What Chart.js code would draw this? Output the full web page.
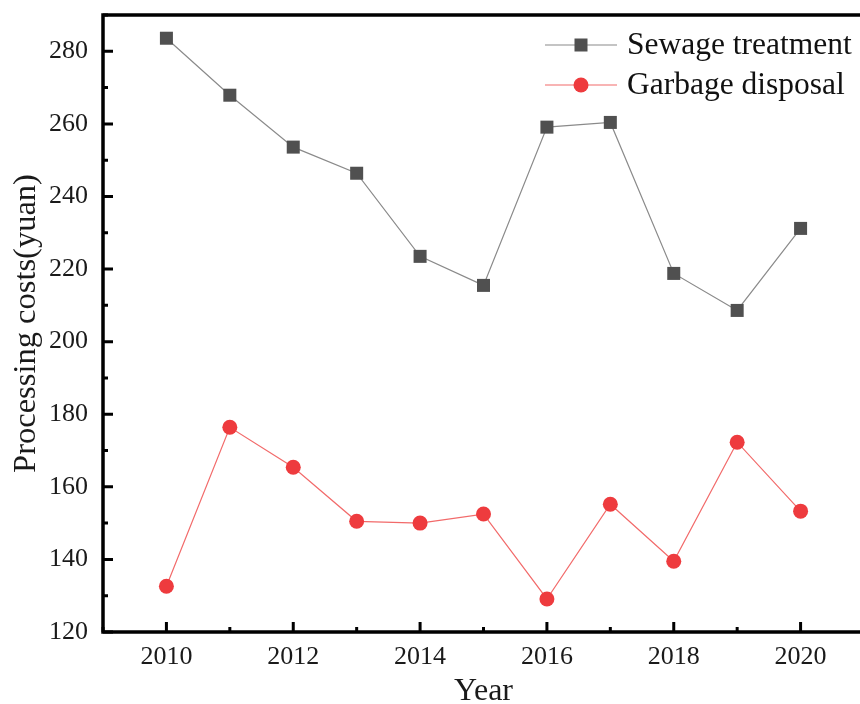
<!DOCTYPE html>
<html>
<head>
<meta charset="utf-8">
<script src="https://cdn.jsdelivr.net/npm/chart.js@4.4.1/dist/chart.umd.min.js"></script>
<style>
  html, body { margin: 0; padding: 0; background: #fff; }
  #wrap { width: 860px; height: 704px; overflow: hidden; }
  canvas { display: block; }
</style>
</head>
<body>
<div id="wrap"><canvas id="c" width="880" height="704"></canvas></div>
<script>
// Processing costs by year
const years = [2010, 2011, 2012, 2013, 2014, 2015, 2016, 2017, 2018, 2019, 2020];
const sewageTreatment = [283.6, 267.9, 253.6, 246.4, 223.5, 215.5, 259.1, 260.4, 218.8, 208.6, 231.2];
const garbageDisposal = [132.6, 176.4, 165.4, 150.5, 150.0, 152.5, 129.1, 155.2, 139.5, 172.3, 153.3];

const seriesNames = ['Sewage treatment', 'Garbage disposal'];
const xTickLabels = [2010, 2012, 2014, 2016, 2018, 2020];
const yTickLabels = [120, 140, 160, 180, 200, 220, 240, 260, 280];
const xMinorTicks = [2009, 2011, 2013, 2015, 2017, 2019, 2021];
const yMinorTicks = [130, 150, 170, 190, 210, 230, 250, 270, 290];

const FONT = '"Liberation Serif", "Times New Roman", serif';
const SEWAGE_LINE = '#8a8a8a', SEWAGE_MARK = '#505050';
const GARBAGE_LINE = '#f26a6a', GARBAGE_MARK = '#ee3b3e';

const toPoints = vals => years.map((yr, i) => ({ x: yr, y: vals[i] }));

// Axis frame (top, left, bottom) with inward major/minor tick marks
const framePlugin = {
  id: 'frame',
  afterDatasetsDraw(chart) {
    const { ctx, width, chartArea: { left, top, bottom }, scales: { x, y } } = chart;
    ctx.save();
    ctx.strokeStyle = '#000';
    ctx.lineWidth = 3.5;
    ctx.lineCap = 'square';
    ctx.beginPath();
    ctx.moveTo(width, top); ctx.lineTo(left, top); ctx.lineTo(left, bottom); ctx.lineTo(width, bottom);
    ctx.stroke();
    ctx.lineCap = 'butt';
    ctx.lineWidth = 3;
    ctx.beginPath();
    yTickLabels.forEach(v => { const p = y.getPixelForValue(v); ctx.moveTo(left, p); ctx.lineTo(left + 10, p); });
    yMinorTicks.forEach(v => { const p = y.getPixelForValue(v); ctx.moveTo(left, p); ctx.lineTo(left + 5, p); });
    xTickLabels.forEach(v => { const p = x.getPixelForValue(v); ctx.moveTo(p, bottom); ctx.lineTo(p, bottom - 10); });
    xMinorTicks.forEach(v => { const p = x.getPixelForValue(v); ctx.moveTo(p, bottom); ctx.lineTo(p, bottom - 5); });
    ctx.stroke();
    ctx.restore();
  }
};

// Legend in the upper right: line sample, marker, label
const legendPlugin = {
  id: 'sampleLegend',
  afterDraw(chart) {
    const { ctx } = chart;
    const rows = [
      { name: seriesNames[0], line: SEWAGE_LINE, mark: SEWAGE_MARK, shape: 'rect', y: 45 },
      { name: seriesNames[1], line: GARBAGE_LINE, mark: GARBAGE_MARK, shape: 'circle', y: 85 }
    ];
    ctx.save();
    rows.forEach(r => {
      ctx.strokeStyle = r.line;
      ctx.lineWidth = 1.2;
      ctx.beginPath(); ctx.moveTo(545, r.y); ctx.lineTo(617, r.y); ctx.stroke();
      ctx.fillStyle = r.mark;
      if (r.shape === 'rect') {
        ctx.fillRect(581 - 6.5, r.y - 6.5, 13, 13);
      } else {
        ctx.beginPath(); ctx.arc(581, r.y, 7.5, 0, Math.PI * 2); ctx.fill();
      }
      ctx.fillStyle = '#111';
      ctx.font = '31.5px ' + FONT;
      ctx.textBaseline = 'middle';
      ctx.textAlign = 'left';
      ctx.fillText(r.name, 627, r.y + 1);
    });
    ctx.restore();
  }
};

new Chart(document.getElementById('c'), {
  type: 'line',
  data: {
    datasets: [
      {
        label: seriesNames[0],
        data: toPoints(sewageTreatment),
        borderColor: SEWAGE_LINE,
        borderWidth: 1.2,
        pointStyle: 'rect',
        pointRadius: 9.2,
        pointBackgroundColor: SEWAGE_MARK,
        pointBorderWidth: 0,
        tension: 0
      },
      {
        label: seriesNames[1],
        data: toPoints(garbageDisposal),
        borderColor: GARBAGE_LINE,
        borderWidth: 1.2,
        pointStyle: 'circle',
        pointRadius: 7.5,
        pointBackgroundColor: GARBAGE_MARK,
        pointBorderWidth: 0,
        tension: 0
      }
    ]
  },
  options: {
    responsive: false,
    animation: false,
    devicePixelRatio: 1,
    layout: { padding: { top: 15, right: 16, left: 0, bottom: 0 } },
    plugins: { legend: { display: false }, tooltip: { enabled: false } },
    scales: {
      x: {
        type: 'linear',
        min: 2009,
        max: 2021,
        grid: { display: false, drawTicks: false },
        border: { display: false },
        afterBuildTicks: s => { s.ticks = xTickLabels.map(v => ({ value: v })); },
        afterFit: s => { s.height = 72; s.paddingLeft = 0; s.paddingRight = 0; },
        ticks: {
          font: { family: FONT, size: 26 },
          color: '#1a1a1a',
          padding: 10,
          maxRotation: 0,
          callback: v => String(v)
        },
        title: {
          display: true,
          text: 'Year',
          font: { family: FONT, size: 32, lineHeight: 1 },
          color: '#1a1a1a',
          padding: { top: 0, bottom: -4 }
        }
      },
      y: {
        min: 120,
        max: 290,
        grid: { display: false, drawTicks: false },
        border: { display: false },
        afterBuildTicks: s => { s.ticks = yTickLabels.map(v => ({ value: v })); },
        afterFit: s => { s.width = 103; s.paddingTop = 0; s.paddingBottom = 0; },
        ticks: {
          font: { family: FONT, size: 26 },
          color: '#1a1a1a',
          padding: 15
        },
        title: {
          display: true,
          text: 'Processing costs(yuan)',
          font: { family: FONT, size: 32.5, lineHeight: 1 },
          color: '#1a1a1a',
          padding: { top: 10, bottom: 0 }
        }
      }
    }
  },
  plugins: [framePlugin, legendPlugin]
});
</script>
</body>
</html>
